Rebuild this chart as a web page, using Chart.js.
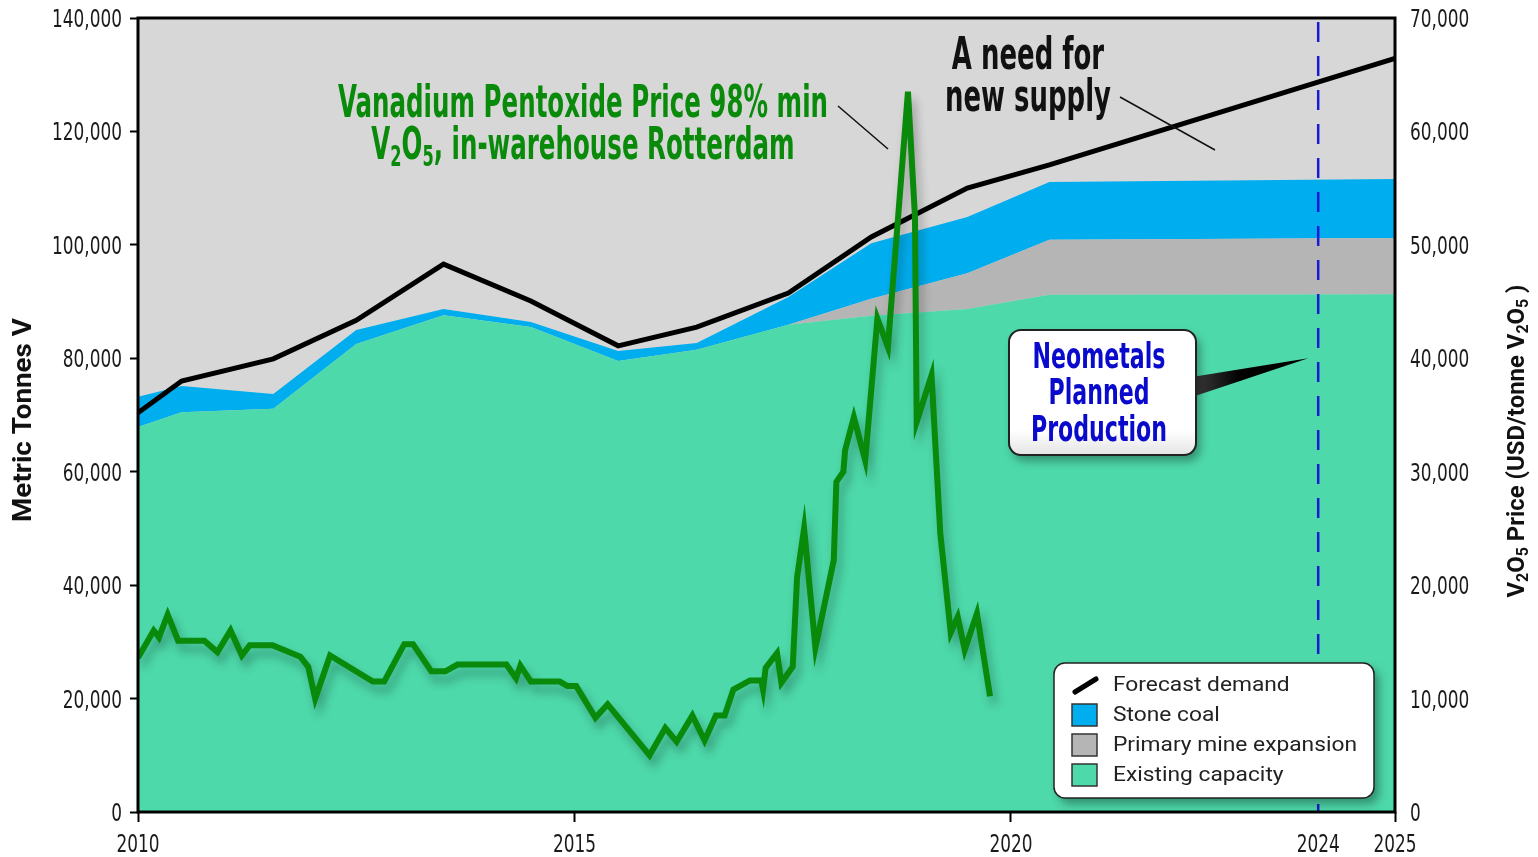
<!DOCTYPE html>
<html>
<head>
<meta charset="utf-8">
<script src="https://cdn.jsdelivr.net/npm/chart.js@4.4.1/dist/chart.umd.min.js"></script>
<style>
  html, body { margin: 0; padding: 0; background: #fff; }
  #wrap { width: 1538px; height: 857px; }
</style>
</head>
<body>
<div id="wrap"><canvas id="vanadiumChart" width="1538" height="857"></canvas></div>
<script>
// supply and demand, metric tonnes V (read at each kink of the areas)
const supplyYears = [2010, 2010.5, 2011.55, 2012.5, 2013.5, 2014.5, 2015.5, 2016.4, 2017.45, 2018.4, 2019.5, 2020.5, 2025];
const existingCapacity = [67900, 70500, 71100, 82500, 87600, 85500, 79500, 81500, 85900, 87500, 88700, 91200, 91300];
const primaryMineExpansion = [0, 0, 0, 0, 0, 0, 0, 0, 0, 3000, 6300, 9700, 9900];
const stoneCoal = [5300, 4600, 2600, 2500, 1100, 900, 1800, 1200, 4900, 9800, 9900, 10200, 10400];
const forecastDemand = [70400, 76000, 79900, 86700, 96600, 90100, 82200, 85500, 91500, 101400, 110000, 114100, 132900];

// V2O5 price, USD/tonne V2O5
const priceDates = [2010.00, 2010.18, 2010.24, 2010.34, 2010.46, 2010.76, 2010.91, 2011.06, 2011.19, 2011.28,
  2011.54, 2011.86, 2011.95, 2012.03, 2012.20, 2012.69, 2012.82, 2013.05, 2013.15, 2013.36,
  2013.52, 2013.66, 2014.22, 2014.33, 2014.38, 2014.50, 2014.83, 2014.92, 2015.02, 2015.24,
  2015.38, 2015.86, 2016.04, 2016.17, 2016.35, 2016.49, 2016.62, 2016.72, 2016.82, 2017.01,
  2017.14, 2017.16, 2017.19, 2017.32, 2017.37, 2017.50, 2017.55, 2017.63, 2017.76, 2017.97,
  2018.00, 2018.08, 2018.10, 2018.20, 2018.33, 2018.47, 2018.59, 2018.82, 2018.90, 2018.92,
  2019.09, 2019.19, 2019.31, 2019.39, 2019.47, 2019.61, 2019.76];
const priceValues = [13600, 16000, 15400, 17400, 15100, 15100, 14100, 16000, 13800, 14700,
  14700, 13700, 12800, 10000, 13800, 11500, 11500, 14800, 14800, 12400,
  12400, 13000, 13000, 11800, 12900, 11500, 11500, 11100, 11100, 8300,
  9500, 5000, 7400, 6200, 8500, 6300, 8500, 8500, 10800, 11600,
  11600, 10800, 12700, 14000, 11400, 12800, 20700, 25000, 14500, 22200,
  29100, 30000, 31900, 34800, 31000, 43500, 41000, 63500, 52500, 34400,
  38500, 24600, 15800, 17200, 14300, 17500, 10200];

const xTickValues = [2010, 2015, 2020, 2024, 2025];
const plannedProductionYear = 2024;
const legendOrder = ['Forecast demand', 'Stone coal', 'Primary mine expansion', 'Existing capacity'];

// the original x axis is stretched before 2020 and squeezed after it
const xBreakYears = [2010, 2020, 2025];
const xBreakFractions = [0, 0.6945, 1];

const condensed = '"Liberation Sans Narrow", "DejaVu Sans Condensed", "Roboto Condensed", sans-serif';
const plain = 'Roboto, "Liberation Sans", Arial, sans-serif';

function yearToDecimal(v) {
  for (let i = 1; i < xBreakYears.length; i++) {
    if (v <= xBreakYears[i] || i === xBreakYears.length - 1) {
      const a = xBreakYears[i - 1], b = xBreakYears[i];
      return xBreakFractions[i - 1] + (v - a) / (b - a) * (xBreakFractions[i] - xBreakFractions[i - 1]);
    }
  }
}
function decimalToYear(d) {
  for (let i = 1; i < xBreakFractions.length; i++) {
    if (d <= xBreakFractions[i] || i === xBreakFractions.length - 1) {
      const a = xBreakFractions[i - 1], b = xBreakFractions[i];
      return xBreakYears[i - 1] + (d - a) / (b - a) * (xBreakYears[i] - xBreakYears[i - 1]);
    }
  }
}

class SegmentedScale extends Chart.LinearScale {
  getPixelForValue(value) {
    return this.getPixelForDecimal(yearToDecimal(value));
  }
  getValueForPixel(pixel) {
    return decimalToYear(this.getDecimalForPixel(pixel));
  }
}
SegmentedScale.id = 'segmented';
SegmentedScale.defaults = Chart.LinearScale.defaults;
Chart.register(SegmentedScale);

function pts(xs, ys) {
  return xs.map((x, i) => ({ x: x, y: ys[i] }));
}

// text made of runs, some of them subscripts; squeezed to a width if given
function measureRuns(ctx, runs, size, family, weight) {
  let w = 0;
  runs.forEach(r => {
    ctx.font = weight + ' ' + (r.sub ? Math.round(size * 0.66) : size) + 'px ' + family;
    w += ctx.measureText(r.t).width;
  });
  return w;
}
function drawRuns(ctx, runs, cx, baseline, size, family, weight, color, sx) {
  const w = measureRuns(ctx, runs, size, family, weight);
  ctx.save();
  ctx.translate(cx, baseline);
  ctx.scale(sx, 1);
  ctx.fillStyle = color;
  ctx.textAlign = 'left';
  ctx.textBaseline = 'alphabetic';
  let x = -w / 2;
  runs.forEach(r => {
    ctx.font = weight + ' ' + (r.sub ? Math.round(size * 0.66) : size) + 'px ' + family;
    ctx.fillText(r.t, x, r.sub ? size * 0.17 : 0);
    x += ctx.measureText(r.t).width;
  });
  ctx.restore();
}
function drawBlock(ctx, lines, cx, baselines, size, family, weight, color, widest) {
  const widths = lines.map(l => measureRuns(ctx, l, size, family, weight));
  const sx = widest / Math.max.apply(null, widths);
  lines.forEach((l, i) => drawRuns(ctx, l, cx, baselines[i], size, family, weight, color, sx));
}

// tick labels in the narrow DIN-like style of the original
const tickSize = 25;
function drawTickLabels(ctx, scale, align, anchor) {
  ctx.save();
  ctx.font = tickSize + 'px ' + condensed;
  const sx = 70 / ctx.measureText('140,000').width;
  ctx.fillStyle = '#1a1a1a';
  ctx.textAlign = align;
  ctx.textBaseline = 'alphabetic';
  scale.ticks.forEach((t, i) => {
    const p = scale.getPixelForTick(i);
    const label = scale.isHorizontal() ? String(t.value) : t.value.toLocaleString('en-US');
    ctx.save();
    if (scale.isHorizontal()) ctx.translate(p, anchor);
    else ctx.translate(anchor, p + 9);
    ctx.scale(sx, 1);
    ctx.fillText(label, 0, 0);
    ctx.restore();
  });
  ctx.restore();
}

const decorations = {
  id: 'decorations',
  beforeDraw(chart) {
    const { ctx, chartArea: a } = chart;
    ctx.save();
    ctx.fillStyle = '#d7d7d7';
    ctx.fillRect(a.left, a.top, a.right - a.left, a.bottom - a.top);
    ctx.restore();
  },
  beforeDatasetDraw(chart, args) {
    if (chart.data.datasets[args.index].label === 'V2O5 price') {
      const ctx = chart.ctx;
      ctx.save();
      ctx.shadowColor = 'rgba(0,0,0,0.28)';
      ctx.shadowBlur = 10;
      ctx.shadowOffsetX = 4;
      ctx.shadowOffsetY = 8;
    }
  },
  afterDatasetDraw(chart, args) {
    if (chart.data.datasets[args.index].label === 'V2O5 price') chart.ctx.restore();
  },
  afterDraw(chart) {
    const { ctx, chartArea: a } = chart;
    const xs = chart.scales.x, ys = chart.scales.y;

    drawTickLabels(ctx, ys, 'right', a.left - 16);
    drawTickLabels(ctx, chart.scales.y2, 'left', a.right + 15);
    drawTickLabels(ctx, xs, 'center', a.bottom + 40);

    // planned production marker
    const mx = xs.getPixelForValue(plannedProductionYear);
    ctx.save();
    ctx.strokeStyle = '#1a1ad6';
    ctx.lineWidth = 2.5;
    ctx.setLineDash([20, 14]);
    ctx.beginPath();
    ctx.moveTo(mx, a.top + 4);
    ctx.lineTo(mx, a.bottom);
    ctx.stroke();
    ctx.restore();

    // frame
    ctx.save();
    ctx.strokeStyle = '#000';
    ctx.lineWidth = 3;
    ctx.strokeRect(a.left, a.top, a.right - a.left, a.bottom - a.top);
    ctx.restore();

    // axis titles
    ctx.save();
    ctx.translate(31, 420);
    ctx.rotate(-Math.PI / 2);
    drawBlock(ctx, [[{ t: 'Metric Tonnes V' }]], 0, 9, 26, plain, 'bold', '#111', 204);
    ctx.restore();
    ctx.save();
    ctx.translate(1524, 441);
    ctx.rotate(-Math.PI / 2);
    drawBlock(ctx, [[{ t: 'V' }, { t: '2', sub: true }, { t: 'O' }, { t: '5', sub: true },
      { t: ' Price (USD/tonne V' }, { t: '2', sub: true }, { t: 'O' }, { t: '5', sub: true }, { t: ' )' }]],
      0, 9, 24, plain, 'bold', '#111', 313);
    ctx.restore();

    // price annotation
    drawBlock(ctx, [
      [{ t: 'Vanadium Pentoxide Price 98% min' }],
      [{ t: 'V' }, { t: '2', sub: true }, { t: 'O' }, { t: '5', sub: true }, { t: ', in-warehouse Rotterdam' }]
    ], 583, [117, 159], 44, condensed, 'bold', '#0a8a0a', 490);
    drawBlock(ctx, [[{ t: 'A need for' }], [{ t: 'new supply' }]],
      1028, [69, 111], 44, condensed, 'bold', '#111', 166);

    ctx.save();
    ctx.strokeStyle = '#111';
    ctx.lineWidth = 1.5;
    ctx.beginPath();
    ctx.moveTo(838, 106); ctx.lineTo(888, 149);
    ctx.moveTo(1120, 97); ctx.lineTo(1215, 150);
    ctx.stroke();
    ctx.restore();

    // Neometals callout
    const tipX = mx - 10, tipY = ys.getPixelForValue(80000);
    ctx.save();
    const wg = ctx.createLinearGradient(1196, 0, tipX, 0);
    wg.addColorStop(0, '#3a3a3a');
    wg.addColorStop(0.4, '#000');
    wg.addColorStop(1, '#000');
    ctx.fillStyle = wg;
    ctx.beginPath();
    ctx.moveTo(1192, 377);
    ctx.lineTo(tipX, tipY);
    ctx.lineTo(1192, 397);
    ctx.closePath();
    ctx.fill();
    ctx.restore();

    ctx.save();
    ctx.shadowColor = 'rgba(0,0,0,0.35)';
    ctx.shadowBlur = 10;
    ctx.shadowOffsetX = 4;
    ctx.shadowOffsetY = 6;
    const bg = ctx.createLinearGradient(0, 330, 0, 455);
    bg.addColorStop(0, '#ffffff');
    bg.addColorStop(0.8, '#ffffff');
    bg.addColorStop(1, '#e4e4e4');
    ctx.fillStyle = bg;
    ctx.beginPath();
    ctx.roundRect(1009, 330, 187, 125, 12);
    ctx.fill();
    ctx.restore();
    ctx.save();
    ctx.strokeStyle = '#222';
    ctx.lineWidth = 2;
    ctx.beginPath();
    ctx.roundRect(1009, 330, 187, 125, 12);
    ctx.stroke();
    ctx.restore();
    drawBlock(ctx, [[{ t: 'Neometals' }], [{ t: 'Planned' }], [{ t: 'Production' }]],
      1099, [368, 404, 441], 36, condensed, 'bold', '#0a0acc', 136);

    // legend
    const lx = 1054, ly = 663, lw = 320, lh = 135;
    ctx.save();
    ctx.shadowColor = 'rgba(0,0,0,0.35)';
    ctx.shadowBlur = 10;
    ctx.shadowOffsetX = 5;
    ctx.shadowOffsetY = 6;
    ctx.fillStyle = '#fff';
    ctx.beginPath();
    ctx.roundRect(lx, ly, lw, lh, 11);
    ctx.fill();
    ctx.restore();
    ctx.save();
    ctx.strokeStyle = '#222';
    ctx.lineWidth = 1.5;
    ctx.beginPath();
    ctx.roundRect(lx, ly, lw, lh, 11);
    ctx.stroke();
    ctx.restore();

    ctx.font = '21px ' + plain;
    const sx = 244 / ctx.measureText('Primary mine expansion').width;
    legendOrder.forEach((name, i) => {
      const ds = chart.data.datasets.find(d => d.label === name);
      const cy = 685 + i * 30;
      ctx.save();
      if (ds.fill === false) {
        ctx.strokeStyle = ds.borderColor;
        ctx.lineWidth = 5;
        ctx.lineCap = 'round';
        ctx.beginPath();
        ctx.moveTo(1075, cy + 7);
        ctx.lineTo(1096, cy - 6);
        ctx.stroke();
      } else {
        ctx.fillStyle = ds.backgroundColor;
        ctx.fillRect(1072, cy - 11, 25, 22);
        ctx.strokeStyle = '#333';
        ctx.lineWidth = 1.5;
        ctx.strokeRect(1072, cy - 11, 25, 22);
      }
      ctx.translate(1113, cy);
      ctx.scale(sx, 1);
      ctx.fillStyle = '#222';
      ctx.font = '21px ' + plain;
      ctx.textBaseline = 'middle';
      ctx.fillText(name, 0, 1);
      ctx.restore();
    });
  }
};

new Chart(document.getElementById('vanadiumChart').getContext('2d'), {
  type: 'line',
  data: {
    datasets: [
      {
        label: 'Existing capacity', data: pts(supplyYears, existingCapacity), yAxisID: 'y', stack: 'supply',
        fill: 'origin', backgroundColor: '#4dd9aa', borderColor: '#4dd9aa', borderWidth: 0, order: 3
      },
      {
        label: 'Primary mine expansion', data: pts(supplyYears, primaryMineExpansion), yAxisID: 'y', stack: 'supply',
        fill: '-1', backgroundColor: '#b5b5b5', borderColor: '#b5b5b5', borderWidth: 0, order: 4
      },
      {
        label: 'Stone coal', data: pts(supplyYears, stoneCoal), yAxisID: 'y', stack: 'supply',
        fill: '-1', backgroundColor: '#00aeef', borderColor: '#00aeef', borderWidth: 0, order: 5
      },
      {
        label: 'Forecast demand', data: pts(supplyYears, forecastDemand), yAxisID: 'y', stack: 'demand',
        fill: false, borderColor: '#000', borderWidth: 5, order: 1
      },
      {
        label: 'V2O5 price', data: pts(priceDates, priceValues), yAxisID: 'y2',
        fill: false, borderColor: '#0a8a0a', borderWidth: 6, borderJoinStyle: 'miter', order: 0
      }
    ]
  },
  options: {
    responsive: false,
    animation: false,
    layout: { padding: { top: 18, left: 0, right: 0, bottom: 0 } },
    elements: { point: { radius: 0 }, line: { tension: 0 } },
    plugins: { legend: { display: false }, tooltip: { enabled: false } },
    scales: {
      x: {
        type: 'segmented',
        min: 2010,
        max: 2025,
        afterBuildTicks: s => { s.ticks = xTickValues.map(v => ({ value: v })); },
        afterFit: s => { s.height = 45; s.paddingLeft = 0; s.paddingRight = 0; },
        ticks: { display: false, autoSkip: false },
        grid: {
          drawOnChartArea: false, tickLength: 10, tickWidth: 2,
          tickColor: c => (c.tick && c.tick.value === plannedProductionYear) ? 'rgba(0,0,0,0)' : '#000'
        },
        border: { display: false }
      },
      y: {
        position: 'left',
        stacked: true,
        min: 0,
        max: 140000,
        afterFit: s => { s.width = 138; s.paddingTop = 0; s.paddingBottom = 0; },
        ticks: { display: false, stepSize: 20000 },
        grid: { drawOnChartArea: false, tickLength: 8, tickWidth: 2, tickColor: '#000' },
        border: { display: false }
      },
      y2: {
        position: 'right',
        min: 0,
        max: 70000,
        afterFit: s => { s.width = 143; s.paddingTop = 0; s.paddingBottom = 0; },
        ticks: { display: false, stepSize: 10000 },
        grid: { drawOnChartArea: false, drawTicks: false },
        border: { display: false }
      }
    }
  },
  plugins: [decorations]
});
</script>
</body>
</html>
